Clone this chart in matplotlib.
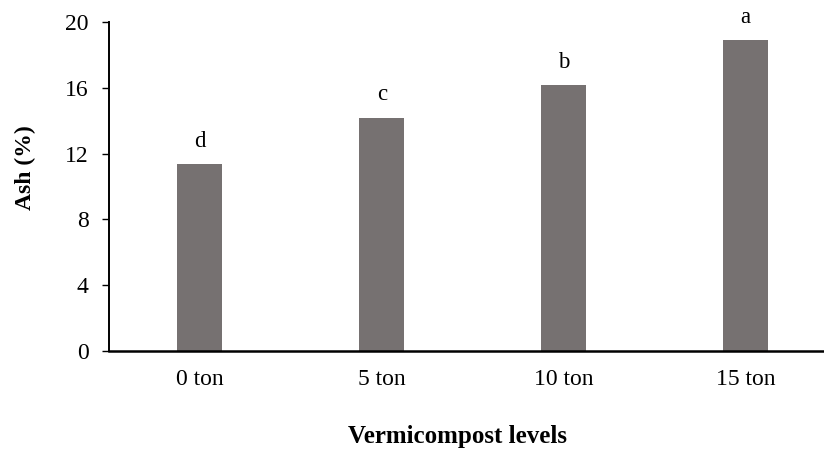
import matplotlib.pyplot as plt
import numpy as np

# ash content at each vermicompost level, with mean-separation letters
levels = ["0 ton", "5 ton", "10 ton", "15 ton"]
ash = [11.35, 14.17, 16.16, 18.9]
letters = ["d", "c", "b", "a"]

plt.rcParams["font.family"] = ["Liberation Serif", "DejaVu Serif"]

fig = plt.figure(figsize=(8.24, 4.55), dpi=100)
# plot area runs a little past the right edge of the figure
ax = fig.add_axes([108.7 / 824, 1 - 351 / 455, 728 / 824, 329 / 455])

x = np.arange(len(levels))
bars = ax.bar(x, ash, width=0.25, color="#767171", zorder=2)

for xi, val, lab in zip(x, ash, letters):
    ax.annotate(lab, (xi, val), xytext=(0, 9), textcoords="offset points",
                ha="center", va="bottom", fontsize=16.5)

ax.set_xlim(-0.5, 3.5)
ax.set_ylim(0, 20)
ax.set_yticks(np.arange(0, 21, 4))
ax.set_xticks(x)
ax.set_xticklabels(levels)
ax.tick_params(axis="x", length=0, pad=13, labelsize=17)
ax.tick_params(axis="y", length=5, width=1.0, direction="out", pad=9.5, labelsize=17)

for side in ["top", "right"]:
    ax.spines[side].set_visible(False)
ax.spines["left"].set_linewidth(1.4)
ax.spines["bottom"].set_linewidth(1.8)

fig.text(457 / 824, 1 - 437 / 455, "Vermicompost levels", ha="center", va="center",
         fontsize=18, fontweight="bold")
fig.text(25 / 824, 1 - 168 / 455, "Ash (%)", ha="center", va="center",
         rotation=90, fontsize=17, fontweight="bold")

fig.savefig("out.png", dpi=100)
